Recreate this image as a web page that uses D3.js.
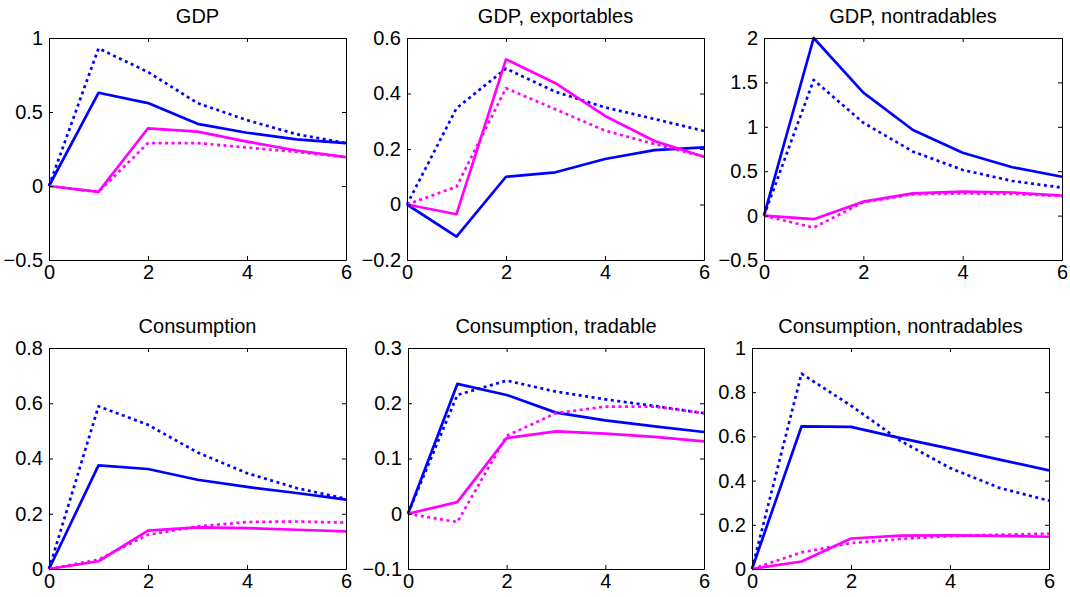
<!DOCTYPE html>
<html>
<head>
<meta charset="utf-8">
<script src="https://cdn.jsdelivr.net/npm/d3@7"></script>
<style>
body{margin:0;background:#fff}
svg text{font-family:"Liberation Sans",Arial,sans-serif}
</style>
</head>
<body>
<div id="chart"></div>
<script>
// data
var titles=["GDP","GDP, exportables","GDP, nontradables","Consumption","Consumption, tradable","Consumption, nontradables"]
var steps=[0,1,2,3,4,5,6]
var xTicks=[0,2,4,6]
var yDomains=[[-0.5,1],[-0.2,0.6],[-0.5,2],[0,0.8],[-0.1,0.3],[0,1]]
var yTicks=[
  [-0.5,0,0.5,1],
  [-0.2,0,0.2,0.4,0.6],
  [-0.5,0,0.5,1,1.5,2],
  [0,0.2,0.4,0.6,0.8],
  [-0.1,0,0.1,0.2,0.3],
  [0,0.2,0.4,0.6,0.8,1]
]
var blueSolid=[
  [0,0.63,0.56,0.42,0.36,0.315,0.29],
  [0,-0.116,0.10,0.116,0.164,0.196,0.206],
  [0,2.0,1.384,0.964,0.708,0.544,0.438],
  [0,0.375,0.362,0.323,0.297,0.275,0.251],
  [0,0.235,0.215,0.183,0.169,0.158,0.148],
  [0,0.645,0.643,0.592,0.545,0.495,0.446]
]
var blueDotted=[
  [0,0.93,0.77,0.56,0.445,0.35,0.29],
  [0,0.347,0.49,0.406,0.35,0.308,0.265],
  [0,1.527,1.046,0.72,0.514,0.39,0.315],
  [0,0.589,0.522,0.422,0.347,0.293,0.254],
  [0,0.215,0.241,0.221,0.207,0.195,0.182],
  [0,0.884,0.739,0.58,0.457,0.367,0.309]
]
var magentaSolid=[
  [0,-0.04,0.39,0.367,0.30,0.24,0.195],
  [0,-0.035,0.523,0.437,0.319,0.229,0.172],
  [0,-0.04,0.157,0.25,0.27,0.26,0.224],
  [0,0.028,0.139,0.151,0.148,0.142,0.136],
  [0,0.021,0.137,0.149,0.145,0.139,0.131],
  [0,0.034,0.138,0.151,0.152,0.15,0.146]
]
var magentaDotted=[
  [0,-0.04,0.29,0.29,0.26,0.23,0.195],
  [0,0.064,0.419,0.343,0.266,0.218,0.172],
  [0,-0.136,0.15,0.24,0.25,0.245,0.22],
  [0,0.034,0.124,0.154,0.17,0.172,0.168],
  [0,-0.015,0.141,0.182,0.194,0.194,0.182],
  [0,0.075,0.117,0.136,0.149,0.155,0.16]
]

var width=1070,height=597
var boxes=[
  {left:49,top:38,right:346,bottom:260},
  {left:407,top:38,right:704,bottom:260},
  {left:764,top:38,right:1062,bottom:260},
  {left:49,top:348,right:346,bottom:569},
  {left:408,top:348,right:704,bottom:569},
  {left:752,top:348,right:1049,bottom:569}
]
var fontSize=20,tickLen=4

var svg=d3.select("#chart").append("svg")
    .attr("width",width)
    .attr("height",height)

function fmt(d){
  return d<0 ? "\u2212"+Math.abs(d) : String(d)
}

for(var p=0;p<6;p++){
  var b=boxes[p]
  var w=b.right-b.left,h=b.bottom-b.top
  var x=d3.scaleLinear().domain([0,6]).range([0,w])
  var y=d3.scaleLinear().domain(yDomains[p]).range([h,0])
  var g=svg.append("g").attr("transform","translate("+b.left+","+b.top+")")

  g.append("rect").attr("width",w).attr("height",h).attr("fill","#fff")

  var line=d3.line().x(function(d,i){return x(steps[i])}).y(function(d){return y(d)})
  var series=[
    {v:blueSolid[p],c:"#0000ff",dash:null},
    {v:blueDotted[p],c:"#0000ff",dash:"3,3.5"},
    {v:magentaSolid[p],c:"#ff00ff",dash:null},
    {v:magentaDotted[p],c:"#ff00ff",dash:"3,3.5"}
  ]
  var clipId="clip"+p
  g.append("clipPath").attr("id",clipId).append("rect")
    .attr("x",-2).attr("y",-2).attr("width",w+4).attr("height",h+4)
  series.forEach(function(s){
    g.append("path")
      .datum(s.v)
      .attr("d",line)
      .attr("fill","none")
      .attr("stroke",s.c)
      .attr("stroke-width",2.7)
      .attr("stroke-linejoin","round")
      .attr("stroke-dasharray",s.dash)
      .attr("clip-path","url(#"+clipId+")")
  })

  // axes, MATLAB style: ticks inside on all four sides
  var axB=g.append("g").attr("transform","translate(0,"+h+")")
    .call(d3.axisBottom(x).tickValues(xTicks).tickSizeInner(-tickLen).tickSizeOuter(0).tickPadding(5).tickFormat(fmt))
  var axT=g.append("g")
    .call(d3.axisTop(x).tickValues(xTicks).tickSizeInner(-tickLen).tickSizeOuter(0).tickFormat(""))
  var axL=g.append("g")
    .call(d3.axisLeft(y).tickValues(yTicks[p]).tickSizeInner(-tickLen).tickSizeOuter(0).tickPadding(6).tickFormat(fmt))
  var axR=g.append("g").attr("transform","translate("+w+",0)")
    .call(d3.axisRight(y).tickValues(yTicks[p]).tickSizeInner(-tickLen).tickSizeOuter(0).tickFormat(""))
  ;[axB,axT,axL,axR].forEach(function(a){
    a.select(".domain").attr("stroke","#000").attr("stroke-width",1)
    a.selectAll(".tick line").attr("stroke","#000")
    a.selectAll("text").attr("font-size",fontSize).attr("fill","#000")
      .attr("font-family","Liberation Sans, Arial, sans-serif")
  })
  axB.selectAll("text").attr("dy","0.72em")

  g.append("text")
    .attr("x",w/2)
    .attr("y",-15)
    .attr("text-anchor","middle")
    .attr("font-size",fontSize)
    .attr("fill","#000")
    .text(titles[p])
}
</script>
</body>
</html>
